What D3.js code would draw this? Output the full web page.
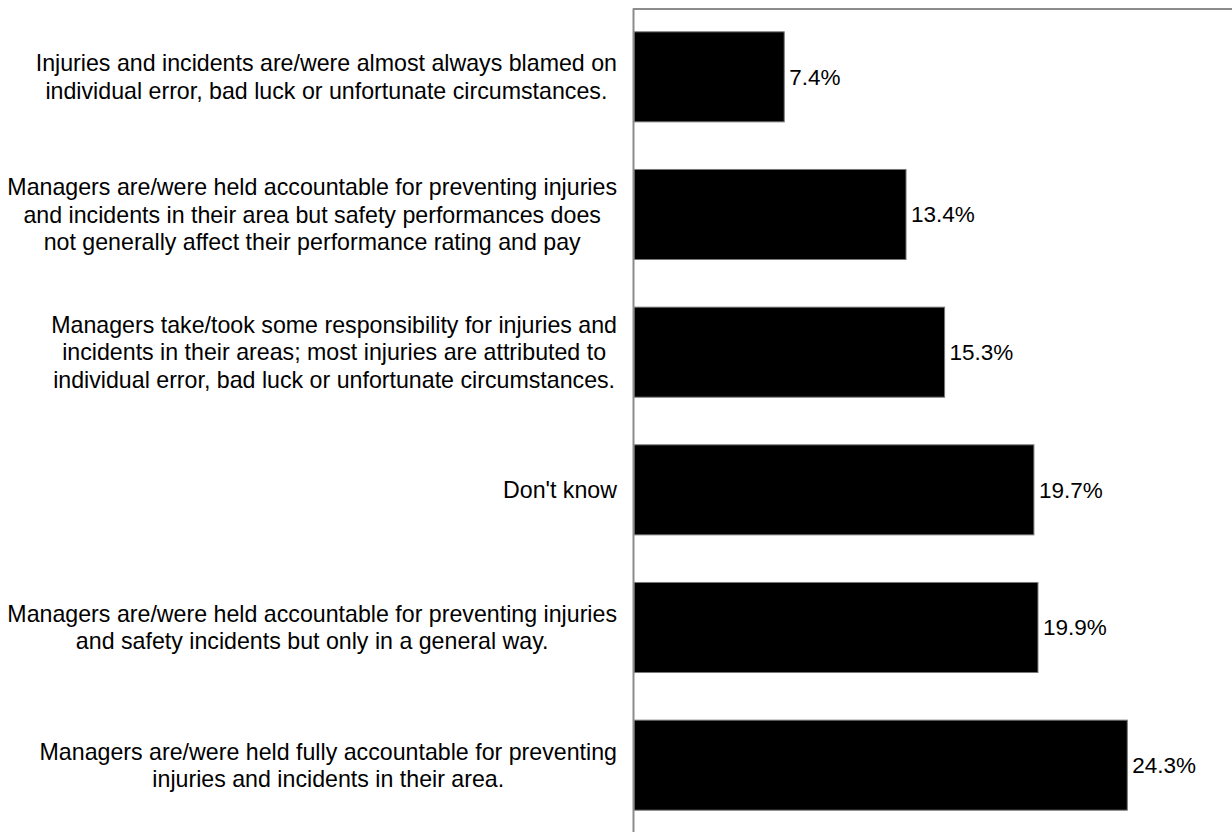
<!DOCTYPE html>
<html>
<head>
<meta charset="utf-8">
<script src="https://cdn.jsdelivr.net/npm/d3@7"></script>
<style>
  body { margin: 0; background: #fff; }
  text { font-family: "Liberation Sans", Arial, sans-serif; fill: #000; }
</style>
</head>
<body>
<div class="chart"></div>
<script>
const svgWidth = 1232;
const svgHeight = 832;

// categories, top to bottom (each one split in lines as in the picture)
const categories = [
  ['Injuries and incidents are/were almost always blamed on',
   'individual error, bad luck or unfortunate circumstances.'],
  ['Managers are/were held accountable for preventing injuries',
   'and incidents in their area but safety performances does',
   'not generally affect their performance rating and pay'],
  ['Managers take/took some responsibility for injuries and',
   'incidents in their areas; most injuries are attributed to',
   'individual error, bad luck or unfortunate circumstances.'],
  ["Don't know"],
  ['Managers are/were held accountable for preventing injuries',
   'and safety incidents but only in a general way.'],
  ['Managers are/were held fully accountable for preventing',
   'injuries and incidents in their area.']
];

const values = [7.4, 13.4, 15.3, 19.7, 19.9, 24.3];

const valueLabels = ['7.4%', '13.4%', '15.3%', '19.7%', '19.9%', '24.3%'];

const data = values.map((v, i) => ({ id: i, lines: categories[i], value: v, label: valueLabels[i] }));

const plot = { left: 634, top: 8, right: 1243, bottom: 834 };
const labelRight = 617;
const lineHeight = 27.5;

const svg = d3.select('.chart')
  .append('svg')
  .attr('width', svgWidth)
  .attr('height', svgHeight);

const x = d3.scaleLinear()
  .domain([0, 30])
  .range([plot.left, plot.right]);

const y = d3.scaleBand()
  .domain(data.map(d => d.id))
  .range([plot.top, plot.bottom])
  .paddingInner(0.346)
  .paddingOuter(0.173);

// top border of the plot area
svg.append('line')
  .attr('x1', plot.left - 1)
  .attr('x2', svgWidth)
  .attr('y1', plot.top + 1)
  .attr('y2', plot.top + 1)
  .attr('stroke', '#8c8c8c')
  .attr('stroke-width', 2);

// bars
svg.selectAll('rect.bar')
  .data(data)
  .enter()
  .append('rect')
  .attr('class', 'bar')
  .attr('x', x(0))
  .attr('y', d => y(d.id))
  .attr('width', d => x(d.value) - x(0))
  .attr('height', y.bandwidth())
  .attr('fill', '#000')
  .attr('stroke', '#777')
  .attr('stroke-width', 1);

// value labels
svg.selectAll('text.value')
  .data(data)
  .enter()
  .append('text')
  .attr('class', 'value')
  .attr('x', d => x(d.value) + 5)
  .attr('y', d => y(d.id) + y.bandwidth() / 2)
  .attr('dy', '0.35em')
  .style('font-size', '22.5px')
  .text(d => d.label);

// y axis (line only)
const yAxis = d3.axisLeft(y).tickSize(0).tickSizeOuter(0).tickFormat('');
const axisG = svg.append('g')
  .attr('transform', `translate(${plot.left - 1}, 0)`)
  .call(yAxis);
axisG.select('.domain')
  .attr('stroke', '#8c8c8c')
  .attr('stroke-width', 2);

// category labels: block right-aligned, lines centred inside the block
data.forEach(d => {
  const g = svg.append('g');
  const cy = y(d.id) + y.bandwidth() / 2;
  const n = d.lines.length;
  const texts = d.lines.map((line, i) => g.append('text')
    .attr('y', cy + (i - (n - 1) / 2) * lineHeight)
    .attr('dy', '0.35em')
    .attr('text-anchor', 'middle')
    .style('font-size', '23.2px')
    .text(line));
  const maxW = d3.max(texts, t => t.node().getComputedTextLength());
  texts.forEach(t => t.attr('x', labelRight - maxW / 2));
});
</script>
</body>
</html>
